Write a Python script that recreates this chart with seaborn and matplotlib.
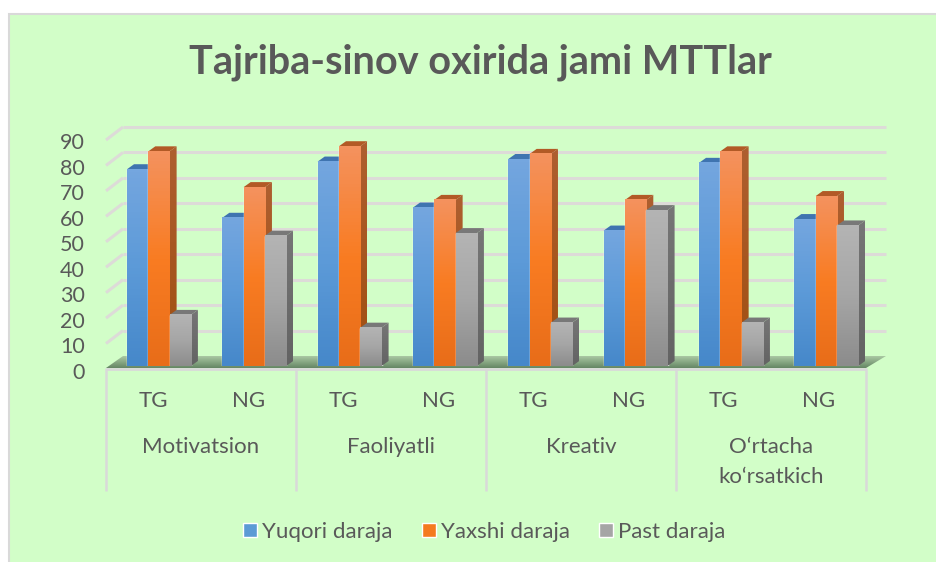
import numpy as np
import pandas as pd
import matplotlib
matplotlib.use('Agg')
import matplotlib.pyplot as plt
import seaborn as sns
from matplotlib.colors import LinearSegmentedColormap
from matplotlib.patches import Polygon
from matplotlib.transforms import ScaledTranslation

# Qiymatlar
guruhlar = ['Motivatsion', 'Faoliyatli', 'Kreativ', 'O‘rtacha\nko‘rsatkich']
sinflar = ['TG', 'NG']
darajalar = ['Yuqori daraja', 'Yaxshi daraja', 'Past daraja']
yuqori = [77, 58, 80, 62, 81, 53, 79.5, 57.5]
yaxshi = [84, 70, 86, 65, 83, 65, 84, 66.5]
past = [20, 51, 15, 52, 17, 61, 17, 55]
y_ticks = list(range(0, 100, 10))
title = 'Tajriba-sinov oxirida jami MTTlar'

W, H = 936, 562
BG = '#D2FEC8'
TXT = '#595959'
GRID = '#DDDBD8'
bar_colors = ['#5B9BD5', '#F47B20', '#A5A5A5']
grads = [['#74A6DF', '#5C9AD8', '#4688CA'],
         ['#F4925E', '#F97C22', '#E86D19'],
         ['#B4B4B4', '#A6A6A6', '#8C8C8C']]
sides = [['#3A6EA8', '#2F6199'], ['#AE5F30', '#A04F10'], ['#767676', '#636363']]
tops = ['#3F74B0', '#B25A26', '#787878']

sns.set_theme(style='white')
plt.rcParams['font.family'] = ['Lato', 'DejaVu Sans']

rows = []
for i, nom in enumerate(darajalar):
    vals = [yuqori, yaxshi, past][i]
    for j, v in enumerate(vals):
        rows.append({'sinf': str(j), 'daraja': nom, 'qiymat': v})
df = pd.DataFrame(rows)

fig = plt.figure(figsize=(W / 100, H / 100), dpi=100, facecolor='white')

# fon va pol uchun piksel koordinatali qatlam
bg = fig.add_axes([0, 0, 1, 1], zorder=0)
bg.set_xlim(0, W)
bg.set_ylim(H, 0)
bg.axis('off')
bg.add_patch(plt.Rectangle((9, 14), W, H, fc=BG, ec='#D9D9D9', lw=1.5))

# asosiy o'q: ustunlar shu yerda
left, right, base, top = 111.3, 874, 366, 136
ax = fig.add_axes([left / W, 1 - base / H, (right - left) / W, (base - top) / H], zorder=1)
ax.patch.set_alpha(0)
sns.barplot(data=df, x='sinf', y='qiymat', hue='daraja', hue_order=darajalar,
            palette=bar_colors, width=0.67, gap=0, saturation=1, ax=ax)
ax.set_xlim(-0.5, 7.5)
ax.set_ylim(0, 90)
px_x = 7 / ((right - left) / 8)
px_y = 90 / (base - top)

for i, cont in enumerate(ax.containers):
    cmap = LinearSegmentedColormap.from_list('g', grads[i][::-1])
    scmap = LinearSegmentedColormap.from_list('s', sides[i][::-1])
    z = 3 + i
    for p in cont:
        x0, w, h = p.get_x(), p.get_width(), p.get_height()
        grad = np.linspace(0, 1, 64).reshape(-1, 1)
        p.set_zorder(z)
        ax.imshow(grad, extent=(x0, x0 + w, 0, h), origin='lower', aspect='auto', cmap=cmap, zorder=z + 0.2)
        dx, dy = px_x, 5 * px_y
        im = ax.imshow(grad, extent=(x0 + w, x0 + w + dx, 0, h + dy), origin='lower', aspect='auto',
                       cmap=scmap, zorder=z + 0.1)
        side = Polygon([(x0 + w, 0), (x0 + w + dx, dy), (x0 + w + dx, h + dy), (x0 + w, h)],
                       closed=True, transform=ax.transData, fc='none', ec='none')
        ax.add_patch(side)
        im.set_clip_path(side)
        ax.add_patch(Polygon([(x0, h), (x0 + dx, h + dy), (x0 + w + dx, h + dy), (x0 + w, h)],
                             closed=True, fc=tops[i], ec='none', zorder=z + 0.1, clip_on=False))
ax.set_xlim(-0.5, 7.5)
ax.set_ylim(0, 90)

# devor panjaralari
front0, back0, bx0, bx1, fx0, fx1 = 368, 356, 123, 886, 106, 866
scale = (back0 - 127) / 90
for t in y_ticks[1:]:
    yb = back0 - t * scale
    bg.plot([bx0, bx1], [yb, yb], color=GRID, lw=2.2, solid_capstyle='butt')
    bg.plot([fx0, bx0], [yb + 13, yb], color=GRID, lw=2.2, solid_capstyle='butt')

# pol
floor_grad = np.linspace(0, 1, 32).reshape(-1, 1)
fl_cmap = LinearSegmentedColormap.from_list('f', ['#A9C8A2', '#668765'])
fl = bg.imshow(floor_grad, extent=(fx0, bx1, front0, back0), aspect='auto', cmap=fl_cmap, zorder=1.5)
bg.set_xlim(0, W)
bg.set_ylim(H, 0)
fl_poly = Polygon([(fx0, front0), (fx1, front0), (bx1, back0), (bx0, back0)], closed=True,
                  fc='none', ec='none', transform=bg.transData)
bg.add_patch(fl_poly)
fl.set_clip_path(fl_poly)

# o'q chiziqlari va guruh ajratgichlar
bg.plot([fx0, fx1], [front0 + 1, front0 + 1], color='#D9D9D9', lw=2, solid_capstyle='butt')
step = (fx1 - fx0) / 4
for k in range(5):
    bg.plot([fx0 + k * step] * 2, [front0, 491], color='#D9D9D9', lw=1.8, solid_capstyle='butt')
for k, nom in enumerate(guruhlar):
    bg.text(fx0 + (k + 0.5) * step, 447, nom.split('\n')[0], ha='center', va='center', fontsize=16, color=TXT)
    if '\n' in nom:
        bg.text(fx0 + (k + 0.5) * step, 477, nom.split('\n')[1], ha='center', va='center', fontsize=16, color=TXT)
    for m, s in enumerate(sinflar):
        bg.text(fx0 + (k + (m + 0.5) / 2) * step, 401, s, ha='center', va='center', fontsize=16, color=TXT)

ax.set_xticks([])
ax.set_xlabel('')
ax.set_ylabel('')
ax.set_yticks(y_ticks)
ax.tick_params(axis='y', length=0, pad=19, labelsize=15.5, labelcolor=TXT)
for lab in ax.get_yticklabels():
    lab.set_transform(lab.get_transform() + ScaledTranslation(0, -0.05, fig.dpi_scale_trans))
sns.despine(ax=ax, left=True, bottom=True)

fig.text(480 / W, 1 - 62 / H, title, ha='center', va='center', fontsize=28.5, fontweight='bold', color=TXT)

sns.move_legend(ax, 'center', bbox_to_anchor=(484 / W, 1 - 532 / H), bbox_transform=fig.transFigure,
                ncol=3, frameon=False, title=None, fontsize=16, handlelength=0.63, handleheight=0.63,
                handletextpad=0.22, columnspacing=1.32, labelcolor=TXT)

fig.savefig('out.png', dpi=100, facecolor='white')
